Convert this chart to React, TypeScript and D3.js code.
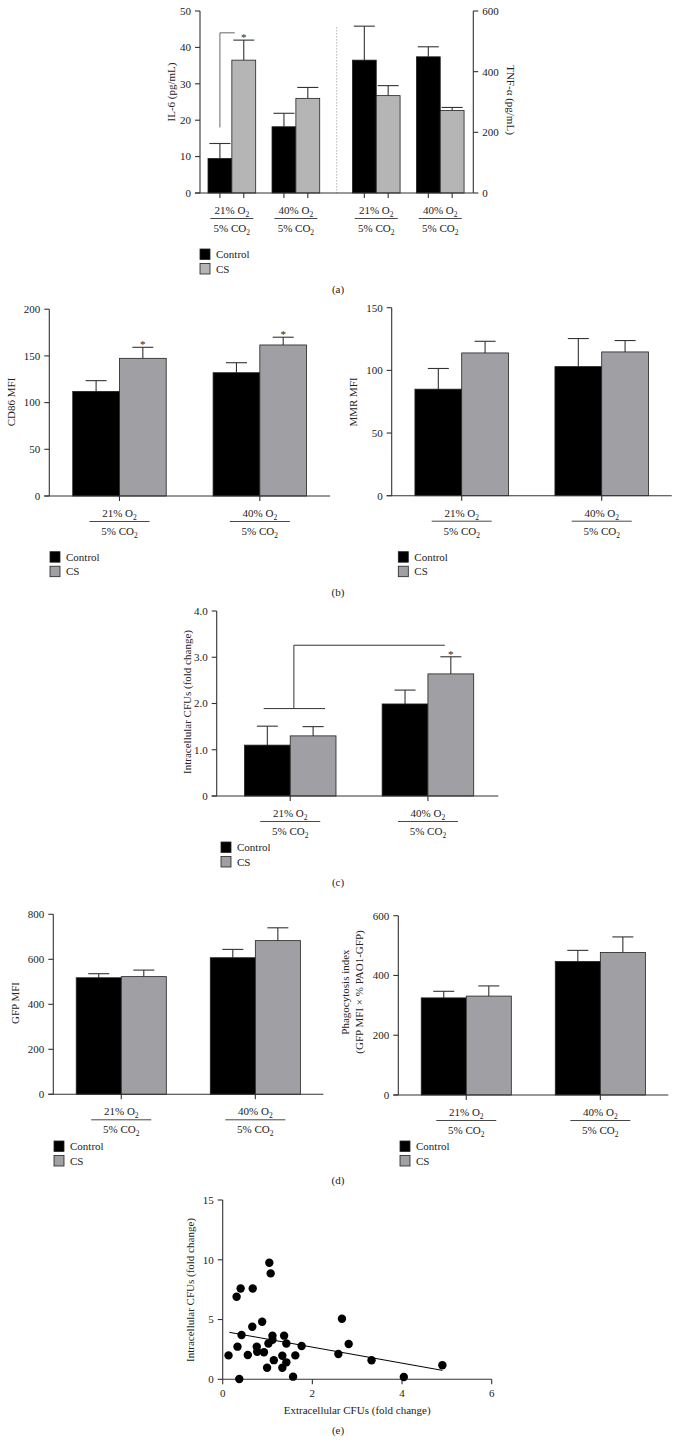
import React from "react";
import * as d3 from "d3";

const FONT = "'Liberation Serif', 'Times New Roman', serif";
const INK = "#333";
const BLACK = "#000";
const GRAY_LIGHT = "#b5b5b5";
const GRAY = "#a0a0a4";
const CAP = 21;

const oxygen = ["21%", "40%"];
const co2 = "5%";
const series = ["Control", "CS"];

// (a) IL-6 (left axis) and TNF-alpha (right axis)
const il6Control = [9.5, 18.2];
const il6ControlSem = [4.1, 3.7];
const il6Cs = [36.5, 26.0];
const il6CsSem = [5.5, 3.0];
const il6Bracket = [18, 44];
const il6Ticks = [0, 10, 20, 30, 40, 50];
const tnfControl = [438, 449];
const tnfControlSem = [112, 33];
const tnfCs = [321, 272];
const tnfCsSem = [33, 10];
const tnfTicks = [0, 200, 400, 600];

// (b) CD86 and MMR
const cd86Control = [112, 132];
const cd86ControlSem = [11.5, 10.7];
const cd86Cs = [147.4, 161.7];
const cd86CsSem = [11.8, 8.3];
const cd86Ticks = [0, 50, 100, 150, 200];
const mmrControl = [85, 103];
const mmrControlSem = [16.5, 22.4];
const mmrCs = [113.9, 114.7];
const mmrCsSem = [9.3, 9.1];
const mmrTicks = [0, 50, 100, 150];

// (c) intracellular CFUs
const cfuControl = [1.1, 1.99];
const cfuControlSem = [0.41, 0.3];
const cfuCs = [1.3, 2.64];
const cfuCsSem = [0.2, 0.37];
const cfuBracket = [1.89, 3.26];
const cfuTicks = [0, 1, 2, 3, 4];

// (d) GFP MFI and phagocytosis index
const gfpControl = [518, 607];
const gfpControlSem = [18, 37];
const gfpCs = [523, 683];
const gfpCsSem = [29, 57];
const gfpTicks = [0, 200, 400, 600, 800];
const phagoControl = [325, 447];
const phagoControlSem = [22, 37];
const phagoCs = [331, 477];
const phagoCsSem = [34, 52];
const phagoTicks = [0, 200, 400, 600];

// (e) extracellular vs intracellular CFUs
const extraCfu = [0.31, 0.4, 0.67, 1.04, 1.07, 2.66, 0.88, 0.66, 0.13, 0.33, 0.42, 0.37, 0.56, 0.76, 0.77, 0.92, 0.99, 1.02, 1.11, 1.11, 1.14, 1.33, 1.33, 1.37, 1.42, 1.42, 1.57, 1.62, 1.76, 2.58, 2.81, 3.32, 4.04, 4.9];
const intraCfu = [6.9, 7.6, 7.6, 9.75, 8.86, 5.07, 4.82, 4.4, 2.0, 2.73, 3.7, 0.03, 2.03, 2.73, 2.31, 2.26, 0.97, 3.0, 3.65, 3.3, 1.6, 1.97, 0.97, 3.65, 3.0, 1.42, 0.22, 2.0, 2.78, 2.12, 2.95, 1.59, 0.19, 1.17];
const fitIntercept = 4.03;
const fitSlope = -0.67;
const fitRange = [0.15, 4.9];
const extraTicks = [0, 2, 4, 6];
const intraTicks = [0, 5, 10, 15];

type Lin = d3.ScaleLinear<number, number>;
type Band = d3.ScaleBand<string>;

function YAxis({ x, y, ticks, fmt = (v: number) => String(v), side = "left" }: { x: number; y: Lin; ticks: number[]; fmt?: (v: number) => string; side?: string }) {
  const d = side === "left" ? -1 : 1;
  const [b, t] = y.range();
  return (
    <g>
      <line x1={x} x2={x} y1={b} y2={t} stroke={INK} strokeWidth={1.1} />
      {ticks.map((v) => (
        <g key={v}>
          <line x1={x} x2={x + 5 * d} y1={y(v)} y2={y(v)} stroke={INK} strokeWidth={1.1} />
          <text x={x + 9 * d} y={y(v)} dy="0.35em" textAnchor={side === "left" ? "end" : "start"}>
            {fmt(v)}
          </text>
        </g>
      ))}
    </g>
  );
}

function XAxis({ x0, x1, y0, ticks }: { x0: number; x1: number; y0: number; ticks: number[] }) {
  return (
    <g>
      <line x1={x0} x2={x1} y1={y0} y2={y0} stroke={INK} strokeWidth={1.1} />
      {ticks.map((t, i) => (
        <line key={i} x1={t} x2={t} y1={y0} y2={y0 + 5} stroke={INK} strokeWidth={1.1} />
      ))}
    </g>
  );
}

function BarSet({ x, y, control, controlSem, cs, csSem, gray }: { x: Band; y: Lin; control: number[]; controlSem: number[]; cs: number[]; csSem: number[]; gray: string }) {
  const inner = d3.scaleBand<string>().domain(series).range([0, x.bandwidth()]);
  const cols = [
    { s: "Control", vals: control, sems: controlSem, fill: BLACK },
    { s: "CS", vals: cs, sems: csSem, fill: gray },
  ];
  return (
    <g>
      {x.domain().map((g, i) =>
        cols.map((c) => {
          const bx = (x(g) ?? 0) + (inner(c.s) ?? 0);
          const w = inner.bandwidth();
          const cx = bx + w / 2;
          const top = y(c.vals[i]);
          const err = y(c.vals[i] + c.sems[i]);
          return (
            <g key={g + c.s}>
              <line x1={cx} x2={cx} y1={top} y2={err} stroke={INK} strokeWidth={1.1} />
              <line x1={cx - CAP / 2} x2={cx + CAP / 2} y1={err} y2={err} stroke={INK} strokeWidth={1.1} />
              <rect x={bx} y={top} width={w} height={y(0) - top} fill={c.fill} stroke="#222" strokeWidth={0.8} />
            </g>
          );
        })
      )}
    </g>
  );
}

function CondLabels({ centers, y0, width }: { centers: number[]; y0: number; width: number }) {
  return (
    <g>
      {centers.map((cx, i) => (
        <g key={i}>
          <text x={cx} y={y0 + 21} textAnchor="middle">
            {oxygen[i % 2]} O<tspan fontSize={7.5} dy={3}>2</tspan>
          </text>
          <line x1={cx - width / 2} x2={cx + width / 2} y1={y0 + 25.5} y2={y0 + 25.5} stroke={INK} strokeWidth={0.9} />
          <text x={cx} y={y0 + 39} textAnchor="middle">
            {co2} CO<tspan fontSize={7.5} dy={3}>2</tspan>
          </text>
        </g>
      ))}
    </g>
  );
}

function Legend({ x, y, gray }: { x: number; y: number; gray: string }) {
  return (
    <g>
      {series.map((s, i) => (
        <g key={s}>
          <rect x={x} y={y + i * 14.5} width={10} height={10.5} fill={i ? gray : BLACK} stroke="#222" strokeWidth={0.8} />
          <text x={x + 16} y={y + i * 14.5 + 9}>{s}</text>
        </g>
      ))}
    </g>
  );
}

function YLabel({ x, y, text, rot = -90 }: { x: number; y: number; text: string; rot?: number }) {
  return (
    <text transform={`translate(${x},${y}) rotate(${rot})`} textAnchor="middle" dy="0.35em">
      {text}
    </text>
  );
}

interface PanelProps {
  left: number;
  right: number;
  top: number;
  bottom: number;
  yMax: number;
  ticks: number[];
  fmt?: (v: number) => string;
  control: number[];
  controlSem: number[];
  cs: number[];
  csSem: number[];
  padIn: number;
  padOut: number;
  align?: number;
  annotate?: (x: Band, y: Lin) => React.ReactNode;
}

function BarPanel(p: PanelProps) {
  const y = d3.scaleLinear().domain([0, p.yMax]).range([p.bottom, p.top]);
  const x = d3
    .scaleBand<string>()
    .domain(oxygen)
    .range([p.left, p.right])
    .paddingInner(p.padIn)
    .paddingOuter(p.padOut)
    .align(p.align ?? 0.5);
  const centers = oxygen.map((g) => (x(g) ?? 0) + x.bandwidth() / 2);
  return (
    <g>
      <BarSet x={x} y={y} control={p.control} controlSem={p.controlSem} cs={p.cs} csSem={p.csSem} gray={GRAY} />
      <XAxis x0={p.left - 5} x1={p.right} y0={p.bottom} ticks={centers} />
      <YAxis x={p.left} y={y} ticks={p.ticks} fmt={p.fmt} />
      <CondLabels centers={centers} y0={p.bottom} width={60} />
      {p.annotate && p.annotate(x, y)}
    </g>
  );
}

function PanelA() {
  const yIl = d3.scaleLinear().domain([0, 50]).range([193, 11]);
  const yTnf = d3.scaleLinear().domain([0, 600]).range([193, 11]);
  const xIl = d3.scaleBand<string>().domain(oxygen).range([200, 336.7]).paddingInner(0.255).paddingOuter(0.195).align(0.32);
  const xTnf = d3.scaleBand<string>().domain(oxygen).range([336.7, 473.3]).paddingInner(0.255).paddingOuter(0.195).align(0.63);
  const barCenters = [xIl, xTnf].flatMap((x) => oxygen.flatMap((g) => [0.25, 0.75].map((f) => (x(g) ?? 0) + x.bandwidth() * f)));
  const groupCenters = [xIl, xTnf].flatMap((x) => oxygen.map((g) => (x(g) ?? 0) + x.bandwidth() / 2));
  const c0 = (xIl("21%") ?? 0) + xIl.bandwidth() * 0.25;
  const c1 = (xIl("21%") ?? 0) + xIl.bandwidth() * 0.75;
  return (
    <g>
      <line x1={336.7} x2={336.7} y1={yIl(45.5)} y2={yIl(0)} stroke="#777" strokeWidth={0.8} strokeDasharray="1,2" />
      <BarSet x={xIl} y={yIl} control={il6Control} controlSem={il6ControlSem} cs={il6Cs} csSem={il6CsSem} gray={GRAY_LIGHT} />
      <BarSet x={xTnf} y={yTnf} control={tnfControl} controlSem={tnfControlSem} cs={tnfCs} csSem={tnfCsSem} gray={GRAY_LIGHT} />
      <XAxis x0={195} x1={473.3} y0={193} ticks={barCenters} />
      <YAxis x={200} y={yIl} ticks={il6Ticks} />
      <YAxis x={473.3} y={yTnf} ticks={tnfTicks} side="right" />
      <CondLabels centers={groupCenters} y0={193} width={43} />
      <path d={`M${c0},${yIl(il6Bracket[0])}V${yIl(il6Bracket[1])}H${c1 - 9}`} fill="none" stroke="#666" strokeWidth={1} />
      <text x={c1} y={yIl(il6Cs[0] + il6CsSem[0]) + 1} textAnchor="middle">*</text>
      <YLabel x={171.5} y={92} text="IL-6 (pg/mL)" />
      <YLabel x={511} y={100} text="TNF-α (pg/mL)" rot={90} />
      <Legend x={200} y={249} gray={GRAY_LIGHT} />
      <text x={338} y={293} textAnchor="middle">(a)</text>
    </g>
  );
}

function PanelE() {
  const x = d3.scaleLinear().domain([0, 6]).range([222.7, 491.7]);
  const y = d3.scaleLinear().domain([0, 15]).range([1379.3, 1200]);
  const fit = d3
    .line<number>()
    .x((d) => x(d))
    .y((d) => y(fitIntercept + fitSlope * d));
  return (
    <g>
      <line x1={x(0)} x2={x(6)} y1={y(0)} y2={y(0)} stroke={INK} strokeWidth={1.1} />
      {extraTicks.map((t) => (
        <g key={t}>
          <line x1={x(t)} x2={x(t)} y1={y(0)} y2={y(0) + 5} stroke={INK} strokeWidth={1.1} />
          <text x={x(t)} y={y(0) + 18} textAnchor="middle">{t}</text>
        </g>
      ))}
      <YAxis x={x(0)} y={y} ticks={intraTicks} />
      {extraCfu.map((v, i) => (
        <circle key={i} cx={x(v)} cy={y(intraCfu[i])} r={4.2} fill={BLACK} />
      ))}
      <path d={fit(fitRange) || ""} fill="none" stroke={BLACK} strokeWidth={1} />
      <text x={x(3)} y={1414} textAnchor="middle">Extracellular CFUs (fold change)</text>
      <YLabel x={190} y={1290} text="Intracellular CFUs (fold change)" />
      <text x={338} y={1434} textAnchor="middle">(e)</text>
    </g>
  );
}

export default function App() {
  const cfuFmt = (v: number) => (v === 0 ? "0" : v.toFixed(1));
  return (
    <svg
      width={680}
      height={1453}
      viewBox="0 0 680 1453"
      style={{ position: "absolute", left: 0, top: 0, background: "#fff" }}
      fontFamily={FONT}
      fontSize={11}
      fill="#222"
    >
      <PanelA />

      {/* (b) */}
      <BarPanel
        left={49.3} right={330} top={309.2} bottom={496} yMax={200} ticks={cd86Ticks}
        control={cd86Control} controlSem={cd86ControlSem} cs={cd86Cs} csSem={cd86CsSem}
        padIn={0.334} padOut={0.167}
        annotate={(x, y) =>
          oxygen.map((g, i) => (
            <text key={g} x={(x(g) ?? 0) + x.bandwidth() * 0.75} y={y(cd86Cs[i] + cd86CsSem[i]) + 0.5} textAnchor="middle">*</text>
          ))
        }
      />
      <YLabel x={11.5} y={402} text="CD86 MFI" />
      <Legend x={50} y={551.7} gray={GRAY} />
      <BarPanel
        left={391.7} right={671.7} top={307.7} bottom={495.7} yMax={150} ticks={mmrTicks}
        control={mmrControl} controlSem={mmrControlSem} cs={mmrCs} csSem={mmrCsSem}
        padIn={0.332} padOut={0.166}
      />
      <YLabel x={353.5} y={402} text="MMR MFI" />
      <Legend x={398.3} y={551.7} gray={GRAY} />
      <text x={338} y={595.5} textAnchor="middle">(b)</text>

      {/* (c) */}
      <BarPanel
        left={216.7} right={498.3} top={611} bottom={796} yMax={4} ticks={cfuTicks} fmt={cfuFmt}
        control={cfuControl} controlSem={cfuControlSem} cs={cfuCs} csSem={cfuCsSem}
        padIn={0.335} padOut={0.19} align={0.53}
        annotate={(x, y) => {
          const b0 = x("21%") ?? 0;
          const bw = x.bandwidth();
          const vx = b0 + bw * 0.54;
          const sx = (x("40%") ?? 0) + bw * 0.75;
          return (
            <g>
              <line x1={b0 + bw * 0.21} x2={b0 + bw * 0.88} y1={y(cfuBracket[0])} y2={y(cfuBracket[0])} stroke={INK} strokeWidth={1} />
              <path d={`M${vx},${y(cfuBracket[0])}V${y(cfuBracket[1])}H${sx - 6}`} fill="none" stroke={INK} strokeWidth={1} />
              <text x={sx} y={y(cfuCs[1] + cfuCsSem[1]) + 1} textAnchor="middle">*</text>
            </g>
          );
        }}
      />
      <YLabel x={186.7} y={702} text="Intracellular CFUs (fold change)" />
      <Legend x={221} y={842} gray={GRAY} />
      <text x={338} y={885.5} textAnchor="middle">(c)</text>

      {/* (d) */}
      <BarPanel
        left={53.3} right={323.3} top={914.3} bottom={1094.3} yMax={800} ticks={gfpTicks}
        control={gfpControl} controlSem={gfpControlSem} cs={gfpCs} csSem={gfpCsSem}
        padIn={0.328} padOut={0.171}
      />
      <YLabel x={15} y={1003} text="GFP MFI" />
      <Legend x={54} y={1141} gray={GRAY} />
      <BarPanel
        left={398.3} right={668.3} top={915.7} bottom={1095} yMax={600} ticks={phagoTicks}
        control={phagoControl} controlSem={phagoControlSem} cs={phagoCs} csSem={phagoCsSem}
        padIn={0.328} padOut={0.171}
      />
      <YLabel x={345} y={992} text="Phagocytosis index" />
      <YLabel x={359} y={992} text="(GFP MFI × % PAO1-GFP)" />
      <Legend x={400} y={1141} gray={GRAY} />
      <text x={338} y={1184} textAnchor="middle">(d)</text>

      <PanelE />
    </svg>
  );
}
